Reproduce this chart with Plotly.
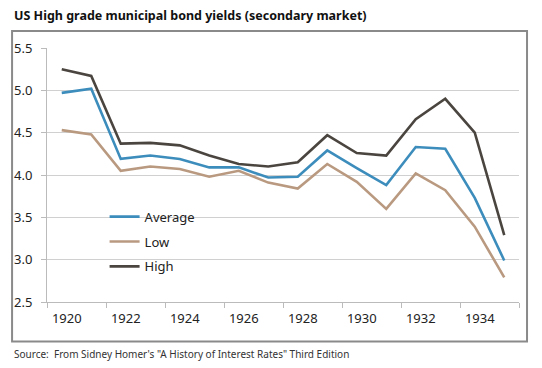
import plotly.graph_objects as go

years = list(range(1920, 1936))
average = [4.97, 5.02, 4.19, 4.23, 4.19, 4.09, 4.09, 3.97, 3.98, 4.29, 4.08, 3.88, 4.33, 4.31, 3.73, 2.99]
low = [4.53, 4.48, 4.05, 4.10, 4.07, 3.98, 4.05, 3.91, 3.84, 4.13, 3.92, 3.60, 4.02, 3.82, 3.39, 2.79]
high = [5.25, 5.17, 4.37, 4.38, 4.35, 4.23, 4.13, 4.10, 4.15, 4.47, 4.26, 4.23, 4.66, 4.90, 4.50, 3.29]
x_ticks = [1920, 1922, 1924, 1926, 1928, 1930, 1932, 1934]
y_ticks = [2.5, 3.0, 3.5, 4.0, 4.5, 5.0, 5.5]

title = "US High grade municipal bond yields (secondary market)"
source = "Source:  From Sidney Homer's \"A History of Interest Rates\" Third Edition"

FONT = "Noto Sans"

fig = go.Figure()
series = [("Average", average, "#3D8DBC"), ("Low", low, "#B99A80"), ("High", high, "#4B4540")]
for name, vals, col in series:
    fig.add_trace(go.Scatter(x=years, y=vals, mode="lines", name=name, legendgroup=name,
                             line=dict(color=col, width=2.6)))

fig.update_layout(
    width=542, height=368,
    margin=dict(l=47, r=23, t=48, b=66),
    paper_bgcolor="white", plot_bgcolor="white",
    font=dict(family=FONT, size=12, color="#222222"),
    showlegend=True,
    legend=dict(x=0.122, y=0.395, xanchor="left", yanchor="top",
                bgcolor="rgba(0,0,0,0)", font=dict(size=13, color="#222222"),
                traceorder="grouped", tracegroupgap=5, itemwidth=30),
    annotations=[
        dict(text="<b>" + title + "</b>", xref="paper", yref="paper", x=-0.074, y=1.0,
             xanchor="left", yanchor="bottom", yshift=22, showarrow=False,
             font=dict(family=FONT, size=12.5, color="#111111")),
        dict(text=source, xref="paper", yref="paper", x=-0.074, y=0, xanchor="left",
             yanchor="top", yshift=-43, showarrow=False,
             font=dict(family=FONT, size=10, color="#333333")),
    ],
    shapes=[dict(type="rect", xref="paper", yref="paper", x0=-0.074, x1=1.017,
                 y0=-0.156, y1=1.067, line=dict(color="#8A8A8A", width=2),
                 fillcolor="rgba(0,0,0,0)", layer="above")],
)

fig.update_xaxes(range=[1919.5, 1935.5], tickvals=x_ticks, ticktext=[str(v) for v in x_ticks],
                 ticks="", showgrid=False, showline=True, linecolor="#BBBBBB", linewidth=1,
                 ticklabelshift=5, ticklabelstandoff=4, zeroline=False, automargin=False,
                 minor=dict(tick0=1919.5, dtick=2, ticks="outside", ticklen=5,
                            tickcolor="#BBBBBB", showgrid=False),
                 tickfont=dict(size=13))
fig.update_yaxes(range=[2.5, 5.5], tickvals=y_ticks, ticktext=[f"{v:.1f}" for v in y_ticks],
                 ticks="outside", ticklen=5, tickcolor="#BBBBBB", showgrid=True,
                 gridcolor="#D0D0D0", gridwidth=1, showline=True, linecolor="#BBBBBB",
                 linewidth=1, zeroline=False, ticklabelstandoff=6, automargin=False,
                 tickfont=dict(size=13))

fig.write_html("out.html", config={"displayModeBar": False},
               post_script="document.body.style.margin='0';document.body.style.padding='0';")
